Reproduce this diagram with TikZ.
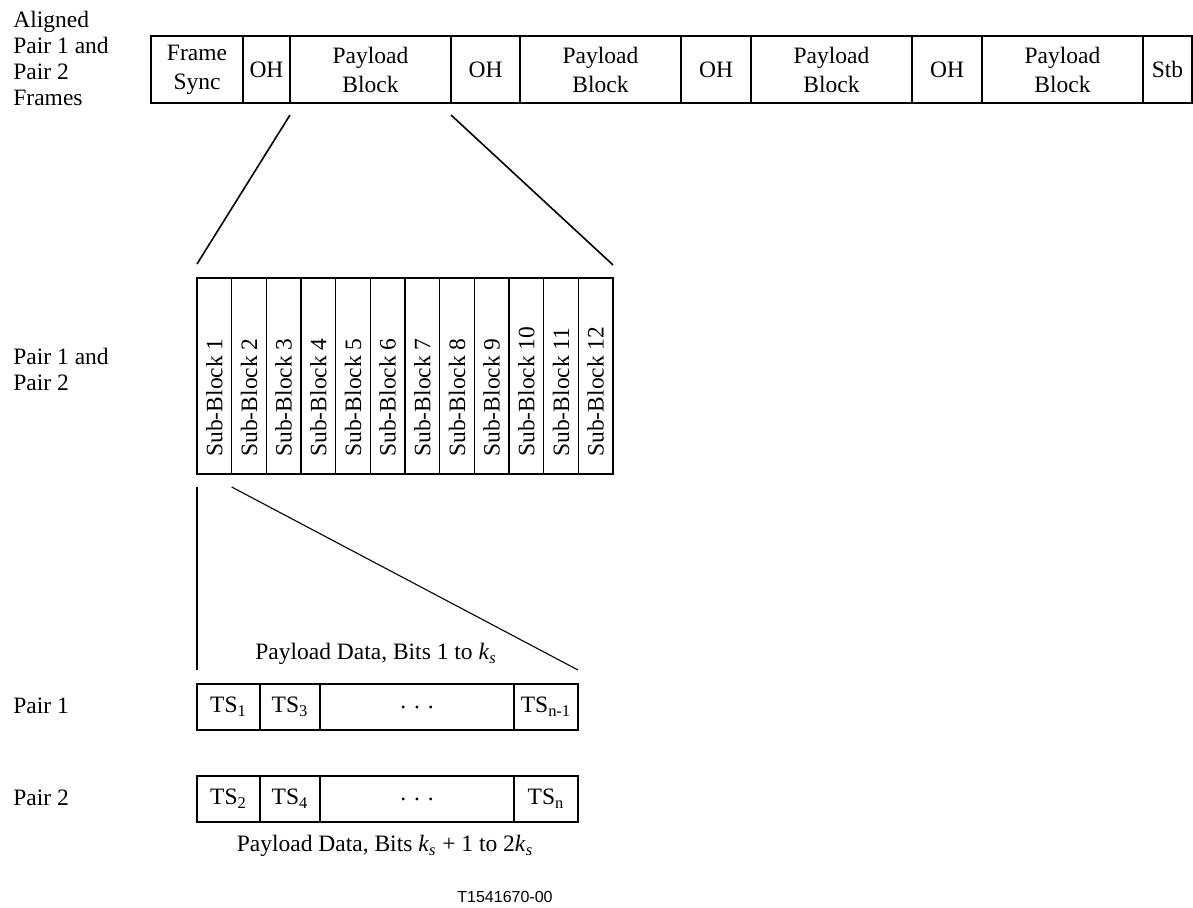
\documentclass[tikz,border=0pt]{standalone}
\usepackage{fontspec}
\setmainfont{Liberation Serif}
\setsansfont{Liberation Sans}
\usetikzlibrary{positioning}
\newcommand\txtsize{\fontsize{11.75pt}{13pt}\selectfont}
\newcommand\ks{\textit{k}\textsubscript{\textit{s}}}
\tikzset{cell/.style={draw,line width=.75pt,inner sep=0pt,outer sep=0pt,align=center,font=\txtsize},
 framecell/.style={cell,minimum height=33.5pt,font=\fontsize{11.75pt}{14.5pt}\selectfont},
 tscell/.style={cell,minimum height=23pt},
 subcell/.style={cell,minimum width=17.33pt,minimum height=98pt},
 sidelabel/.style={anchor=west,align=left,font=\txtsize,inner sep=0pt},
 note/.style={font=\txtsize,inner sep=0pt},
 zoomline/.style={line width=.8pt},
 thinline/.style={line width=.55pt}}

\begin{document}
\begin{tikzpicture}[x=0.5pt,y=-0.5pt]
\useasboundingbox (0,0) rectangle (1193,908);
% aligned frame
\node[framecell,minimum width=46pt,anchor=north west] (fs) at (151,36) {Frame\\Sync};
\node[framecell,minimum width=23.5pt,right=0pt of fs] (oh1) {OH};
\node[framecell,minimum width=80.5pt,right=0pt of oh1] (pb1) {Payload\\Block};
\node[framecell,minimum width=34.5pt,right=0pt of pb1] (oh2) {OH};
\node[framecell,minimum width=80.5pt,right=0pt of oh2] (pb2) {Payload\\Block};
\node[framecell,minimum width=35pt,right=0pt of pb2] (oh3) {OH};
\node[framecell,minimum width=80.5pt,right=0pt of oh3] (pb3) {Payload\\Block};
\node[framecell,minimum width=35pt,right=0pt of pb3] (oh4) {OH};
\node[framecell,minimum width=80.5pt,right=0pt of oh4] (pb4) {Payload\\Block};
\node[framecell,minimum width=24.5pt,right=0pt of pb4] (stb) {Stb};
\node[sidelabel] (lframe) at (13,58) {Aligned\\Pair 1 and\\Pair 2\\Frames};
% sub-blocks
\foreach \i in {1,...,12} {
  \node[subcell,anchor=north west] (sb\i) at ({197+34.67*(\i-1)},278) {};
  \node[note,rotate=90,anchor=west] (sbt\i) at ([yshift=8.5pt]sb\i.south) {Sub-Block \i};
}
\node[sidelabel] (lsub) at (13,369) {Pair 1 and\\Pair 2};
\draw[zoomline] ([yshift=-6pt]pb1.south west) -- ([yshift=7pt]sb1.north west);
\draw[zoomline] ([yshift=-6pt]pb1.south east) -- ([yshift=6.5pt]sb12.north east);
% time slots
\node[tscell,minimum width=31.5pt,anchor=north west] (ts1) at (197,684) {TS\textsubscript{1}};
\node[tscell,minimum width=30pt,right=0pt of ts1] (ts3) {TS\textsubscript{3}};
\node[tscell,minimum width=97pt,right=0pt of ts3] (dotsa) {. . .};
\node[tscell,minimum width=32pt,right=0pt of dotsa] (tsna) {TS\textsubscript{n-1}};
\node[tscell,minimum width=31.5pt,anchor=north west] (ts2) at (197,776) {TS\textsubscript{2}};
\node[tscell,minimum width=30pt,right=0pt of ts2] (ts4) {TS\textsubscript{4}};
\node[tscell,minimum width=97pt,right=0pt of ts4] (dotsb) {. . .};
\node[tscell,minimum width=32pt,right=0pt of dotsb] (tsnb) {TS\textsubscript{n}};
\draw[zoomline] ([yshift=-6.5pt]sb1.south west) -- ([yshift=7pt]ts1.north west);
\draw[thinline] ([yshift=-6.5pt]sb1.south east) -- ([yshift=7pt]tsna.north east);
\node[note] (bitsa) at (376,654) {Payload Data, Bits 1 to \ks};
\node[note] (bitsb) at (385,846) {Payload Data, Bits \ks{} + 1 to 2\ks};
\node[sidelabel] (lpa) at (13,706) {Pair 1};
\node[sidelabel] (lpb) at (13,798) {Pair 2};
\node[font=\sffamily\fontsize{8pt}{9pt}\selectfont,inner sep=0pt] (fig) at (505,897) {T1541670-00};
\end{tikzpicture}
\end{document}
